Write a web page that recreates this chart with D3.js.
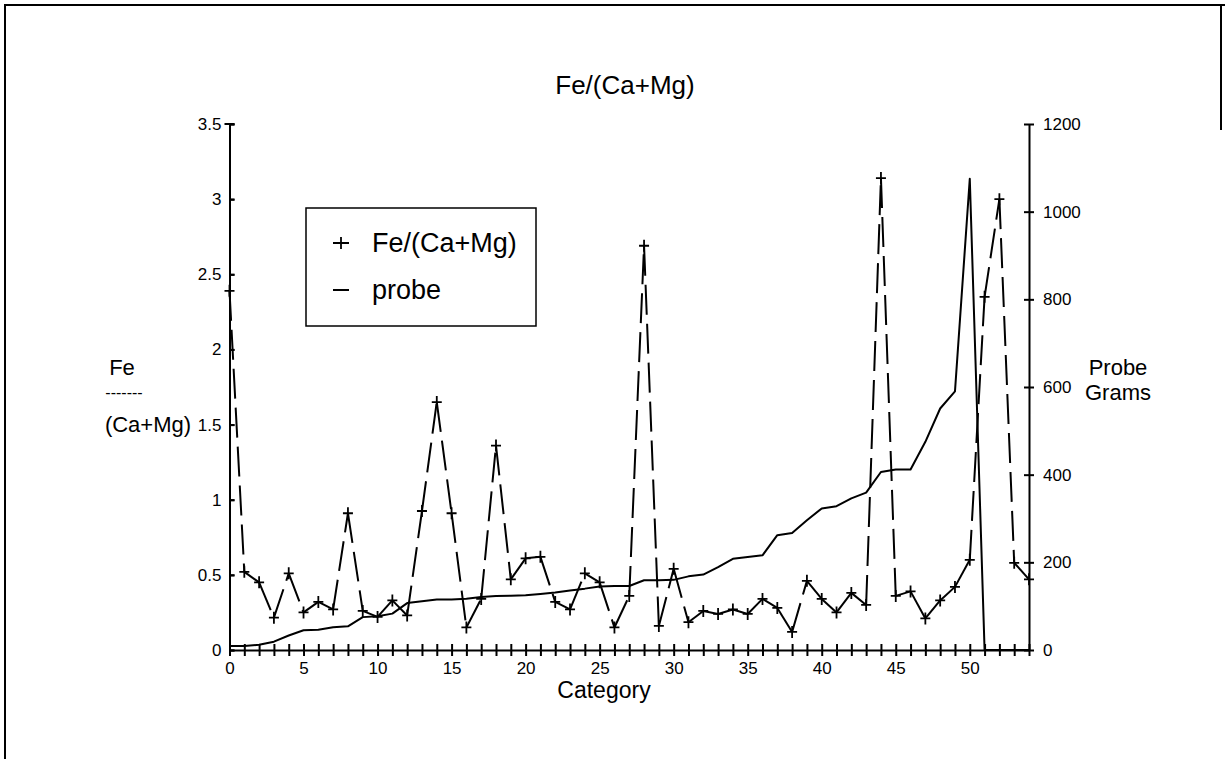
<!DOCTYPE html>
<html>
<head>
<meta charset="utf-8">
<script src="https://cdn.jsdelivr.net/npm/d3@7"></script>
<style>
    body { margin: 0; background: #fff; }
    text { font-family: "Liberation Sans", Arial, sans-serif; fill: #000; }
</style>
</head>
<body>
<div id="chart"></div>
<script>
const categories = d3.range(0, 55);
const feRatio = [2.39, 0.52, 0.45, 0.215, 0.51, 0.25, 0.32, 0.27, 0.91, 0.26,
    0.22, 0.33, 0.23, 0.925, 1.65, 0.91, 0.15, 0.34, 1.36, 0.47,
    0.61, 0.62, 0.32, 0.27, 0.51, 0.45, 0.15, 0.36, 2.69, 0.16,
    0.54, 0.185, 0.26, 0.24, 0.27, 0.24, 0.34, 0.28, 0.12, 0.46,
    0.34, 0.25, 0.38, 0.30, 3.14, 0.36, 0.39, 0.21, 0.33, 0.42,
    0.60, 2.35, 3.0, 0.58, 0.47];
const probeGrams = [9, 9, 12, 19, 33, 45, 46, 52, 54, 75,
    77, 83, 107, 111, 115, 115, 117, 121, 123, 124,
    125, 128, 131, 136, 140, 145, 146, 146, 159, 159,
    160, 168, 172, 189, 208, 212, 216, 262, 267, 296,
    323, 328, 346, 359, 406, 412, 412, 475, 551, 590,
    1075, 0, 0, 0, 0];
const leftTicks = [0, 0.5, 1, 1.5, 2, 2.5, 3, 3.5];
const leftTickLabels = ["0", "0.5", "1", "1.5", "2", "2.5", "3", "3.5"];
const rightTicks = [0, 200, 400, 600, 800, 1000, 1200];
const xLabelTicks = [0, 5, 10, 15, 20, 25, 30, 35, 40, 45, 50];
const legendLabels = ["Fe/(Ca+Mg)", "probe"];

const W = 1225, H = 759;
let margin = {top: 124, right: 196, bottom: 109, left: 229.5};
let width = W - margin.left - margin.right;
let height = H - margin.top - margin.bottom;

let root = d3.select("#chart").append("svg")
    .attr("width", W)
    .attr("height", H);

// page frame from the scanned sheet
root.append("path")
    .attr("d", "M5,759 V5 H1225 M1221,5 V130")
    .attr("fill", "none")
    .attr("stroke", "#000")
    .attr("stroke-width", 2);

let svg = root.append("g")
    .attr("transform", "translate(" + margin.left + "," + margin.top + ")");

let x = d3.scaleLinear().domain([0, 54]).range([0, width]);
let y = d3.scaleLinear().domain([0, 3.5]).range([height, 0]);
let y2 = d3.scaleLinear().domain([0, 1200]).range([height, 0]);

// Left axis, ticks cross the line
let leftAxis = svg.append("g")
    .call(d3.axisLeft(y).tickValues(leftTicks)
        .tickSize(-5).tickSizeOuter(0).tickPadding(8)
        .tickFormat((d, i) => leftTickLabels[i]));
leftAxis.selectAll(".tick line").clone().attr("x2", 5);

// Right axis
let rightAxis = svg.append("g")
    .attr("transform", "translate(" + width + ",0)")
    .call(d3.axisRight(y2).tickValues(rightTicks)
        .tickSize(-5).tickSizeOuter(0).tickPadding(14)
        .tickFormat(d3.format("d")));
rightAxis.selectAll(".tick line").clone().attr("x2", 5);

// Bottom axis: a tick on every category, labels every five
let xAxis = svg.append("g")
    .attr("transform", "translate(0," + height + ")")
    .call(d3.axisBottom(x).tickValues(categories)
        .tickSize(-6).tickSizeOuter(0).tickPadding(12)
        .tickFormat(d => xLabelTicks.includes(d) ? d : ""));
xAxis.selectAll(".tick line").clone().attr("y2", 6);

[leftAxis, rightAxis, xAxis].forEach(function (ax) {
    ax.select(".domain").attr("stroke", "#000").attr("stroke-width", 2);
    ax.selectAll(".tick line").attr("stroke", "#000").attr("stroke-width", 2);
    ax.selectAll(".tick text").attr("font-size", 17).attr("fill", "#000")
        .style("font-family", "'Liberation Sans', Arial, sans-serif");
});
// cap at the top of the left axis
svg.append("line").attr("x1", -5).attr("x2", 5).attr("y1", y(3.5)).attr("y2", y(3.5))
    .attr("stroke", "#000").attr("stroke-width", 2);

// probe line (right axis)
svg.append("path")
    .datum(categories)
    .attr("fill", "none")
    .attr("stroke", "#000")
    .attr("stroke-width", 2)
    .attr("stroke-linejoin", "round")
    .attr("d", d3.line()
        .x(d => x(d))
        .y(d => y2(probeGrams[d])));

// Fe/(Ca+Mg) dashed line, dash pattern restarts on each segment
let feLine = d3.line()
    .x(d => x(d))
    .y(d => y(feRatio[d]));
svg.append("g").selectAll("path")
    .data(d3.pairs(categories))
    .join("path")
    .attr("fill", "none")
    .attr("stroke", "#000")
    .attr("stroke-width", 2)
    .attr("stroke-dasharray", "30,9")
    .attr("d", d => feLine(d));

// plus markers
let plus = "M-5,0H5M0,-6V6";
svg.append("g").selectAll("path")
    .data(categories)
    .join("path")
    .attr("transform", d => "translate(" + x(d) + "," + y(feRatio[d]) + ")")
    .attr("d", plus)
    .attr("stroke", "#000")
    .attr("stroke-width", 1.8)
    .attr("fill", "none");

// titles
root.append("text")
    .attr("x", 625).attr("y", 94)
    .attr("text-anchor", "middle")
    .attr("font-size", 26)
    .text("Fe/(Ca+Mg)");

root.append("text")
    .attr("x", 604).attr("y", 698)
    .attr("text-anchor", "middle")
    .attr("font-size", 23)
    .text("Category");

let leftLabel = root.append("text")
    .attr("text-anchor", "middle")
    .attr("font-size", 22);
leftLabel.append("tspan").attr("x", 122).attr("y", 375).text("Fe");
leftLabel.append("tspan").attr("x", 124).attr("y", 398).attr("font-size", 16).text("-------");
leftLabel.append("tspan").attr("x", 148).attr("y", 432).text("(Ca+Mg)");

let rightLabel = root.append("text")
    .attr("text-anchor", "middle")
    .attr("font-size", 22);
rightLabel.append("tspan").attr("x", 1118).attr("y", 375).text("Probe");
rightLabel.append("tspan").attr("x", 1118).attr("y", 400).text("Grams");

// legend
let legend = root.append("g");
legend.append("rect")
    .attr("x", 306).attr("y", 208)
    .attr("width", 230).attr("height", 118)
    .attr("fill", "#fff")
    .attr("stroke", "#000")
    .attr("stroke-width", 1.5);
legendLabels.forEach(function (label, i) {
    let cy = 243 + i * 47;
    legend.append("line")
        .attr("x1", 333).attr("x2", 349)
        .attr("y1", cy).attr("y2", cy)
        .attr("stroke", "#000").attr("stroke-width", 2);
    if (i === 0) {
        legend.append("line")
            .attr("x1", 341).attr("x2", 341)
            .attr("y1", cy - 6).attr("y2", cy + 6)
            .attr("stroke", "#000").attr("stroke-width", 1.8);
    }
    legend.append("text")
        .attr("x", 372).attr("y", cy + 9)
        .attr("font-size", 27)
        .text(label);
});
</script>
</body>
</html>
